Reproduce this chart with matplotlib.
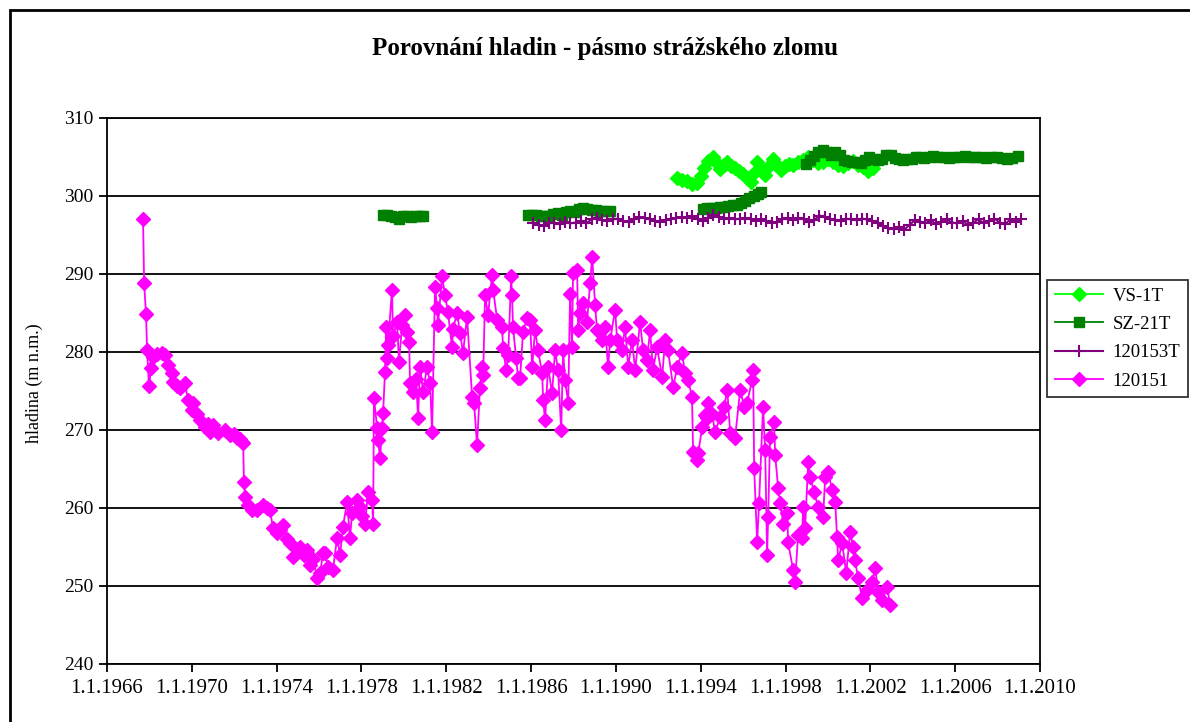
import numpy as np
import matplotlib
matplotlib.use('Agg')
import matplotlib.pyplot as plt
from matplotlib.patches import Rectangle

# 120151 (magenta) - decimal year, level
w151_years = [
    1967.70, 1967.75, 1967.84, 1967.89, 1967.98, 1968.08, 1968.17, 1968.36, 1968.59, 1968.74,
    1968.88, 1969.07, 1969.11, 1969.30, 1969.44, 1969.68, 1969.82, 1970.01, 1970.06, 1970.25,
    1970.39, 1970.62, 1970.76, 1970.86, 1971.00, 1971.24, 1971.57, 1971.80, 1971.99, 1972.13,
    1972.27, 1972.37, 1972.42, 1972.46, 1972.51, 1972.65, 1972.84, 1973.08, 1973.36, 1973.55,
    1973.69, 1973.83, 1974.02, 1974.16, 1974.30, 1974.49, 1974.63, 1974.77, 1974.96, 1975.10,
    1975.29, 1975.43, 1975.58, 1975.72, 1975.91, 1976.05, 1976.19, 1976.28, 1976.42, 1976.66,
    1976.85, 1976.99, 1977.13, 1977.32, 1977.46, 1977.56, 1977.79, 1977.93, 1978.03, 1978.17,
    1978.31, 1978.50, 1978.55, 1978.59, 1978.74, 1978.78, 1978.88, 1978.97, 1979.02, 1979.11,
    1979.16, 1979.21, 1979.25, 1979.44, 1979.49, 1979.68, 1979.77, 1979.92, 1980.06, 1980.15,
    1980.25, 1980.29, 1980.43, 1980.58, 1980.67, 1980.76, 1980.91, 1981.09, 1981.24, 1981.33,
    1981.47, 1981.57, 1981.61, 1981.80, 1981.94, 1982.08, 1982.27, 1982.32, 1982.51, 1982.65,
    1982.79, 1982.98, 1983.22, 1983.31, 1983.45, 1983.59, 1983.69, 1983.74, 1983.83, 1983.97,
    1984.16, 1984.21, 1984.40, 1984.63, 1984.68, 1984.82, 1984.92, 1985.06, 1985.10, 1985.15,
    1985.29, 1985.39, 1985.48, 1985.62, 1985.81, 1985.95, 1986.05, 1986.19, 1986.33, 1986.52,
    1986.57, 1986.66, 1986.80, 1986.99, 1987.13, 1987.27, 1987.42, 1987.51, 1987.60, 1987.75,
    1987.84, 1987.93, 1987.98, 1988.17, 1988.22, 1988.31, 1988.45, 1988.64, 1988.78, 1988.88,
    1989.02, 1989.11, 1989.35, 1989.49, 1989.63, 1989.73, 1989.96, 1990.06, 1990.29, 1990.43,
    1990.58, 1990.76, 1990.91, 1991.14, 1991.28, 1991.47, 1991.61, 1991.75, 1991.94, 1992.18,
    1992.32, 1992.46, 1992.70, 1992.89, 1993.12, 1993.26, 1993.41, 1993.59, 1993.64, 1993.83,
    1993.88, 1994.07, 1994.21, 1994.30, 1994.35, 1994.54, 1994.68, 1994.92, 1995.10, 1995.25,
    1995.39, 1995.62, 1995.86, 1996.05, 1996.19, 1996.42, 1996.47, 1996.52, 1996.66, 1996.75,
    1996.94, 1997.04, 1997.13, 1997.18, 1997.27, 1997.46, 1997.51, 1997.65, 1997.75, 1997.89,
    1998.08, 1998.12, 1998.36, 1998.45, 1998.59, 1998.78, 1998.83, 1998.92, 1999.07, 1999.16,
    1999.35, 1999.54, 1999.77, 1999.87, 2000.01, 2000.20, 2000.34, 2000.43, 2000.48, 2000.67,
    2000.86, 2001.05, 2001.19, 2001.28, 2001.42, 2001.61, 2001.85, 2002.08, 2002.23, 2002.37,
    2002.56, 2002.79, 2002.93,
]
w151_level = [
    297.1, 288.8, 284.9, 280.3, 275.6, 278.0, 279.4, 279.8, 279.9, 279.6,
    278.3, 277.3, 276.2, 275.6, 275.4, 276.0, 273.8, 272.6, 273.5, 272.0,
    271.3, 270.4, 270.8, 269.7, 270.6, 269.6, 270.0, 269.4, 269.5, 269.0,
    268.9, 268.5, 268.3, 263.3, 261.4, 260.4, 259.8, 259.7, 260.4, 260.0,
    259.7, 257.4, 256.8, 257.2, 257.8, 256.0, 255.5, 253.7, 254.8, 255.0,
    254.0, 254.6, 252.7, 253.5, 251.0, 251.7, 254.2, 254.2, 252.5, 252.1,
    256.2, 254.0, 257.6, 260.8, 256.2, 259.4, 261.0, 260.1, 259.0, 258.0,
    262.0, 261.0, 258.0, 274.1, 270.3, 268.7, 266.4, 270.3, 272.2, 277.4,
    283.2, 279.2, 280.9, 288.0, 282.0, 283.9, 278.7, 283.4, 284.7, 282.6,
    281.3, 276.0, 274.9, 276.5, 271.5, 278.1, 274.9, 278.1, 276.0, 269.7,
    288.3, 285.6, 283.5, 289.7, 287.3, 285.1, 280.6, 283.0, 285.0, 282.4,
    279.9, 284.5, 274.2, 273.5, 268.1, 275.4, 278.1, 277.0, 287.3, 284.7,
    289.9, 288.0, 284.1, 283.2, 280.5, 277.7, 279.6, 289.7, 287.3, 283.2,
    279.2, 276.7, 276.7, 282.6, 284.4, 284.1, 278.1, 282.8, 280.2, 277.3,
    273.8, 271.3, 278.1, 274.7, 280.2, 277.7, 270.0, 280.2, 276.4, 273.5,
    287.5, 280.6, 290.1, 290.5, 282.8, 285.0, 286.3, 283.9, 288.8, 292.2,
    286.0, 282.8, 281.5, 283.2, 278.1, 281.5, 285.4, 281.5, 280.2, 283.2,
    278.1, 281.5, 277.7, 283.9, 280.2, 279.0, 282.8, 277.7, 280.6, 276.8,
    281.5, 280.2, 275.5, 278.1, 279.9, 277.3, 276.4, 274.2, 267.2, 266.2,
    267.0, 270.4, 271.9, 271.5, 273.5, 272.0, 269.7, 271.7, 273.0, 275.1,
    269.6, 269.0, 275.1, 273.0, 273.5, 276.4, 277.7, 265.1, 255.6, 260.6,
    273.0, 267.4, 254.0, 258.8, 269.1, 271.0, 266.8, 262.6, 260.6, 258.0,
    259.4, 255.6, 252.0, 250.5, 256.5, 256.2, 260.1, 257.4, 265.9, 264.0,
    262.0, 260.1, 258.8, 264.0, 264.6, 262.3, 260.8, 256.3, 253.3, 255.5,
    251.7, 256.9, 255.0, 253.3, 251.0, 248.5, 249.5, 250.5, 252.3, 249.2,
    248.2, 249.9, 247.6,
]

# VS-1T (light green)
vs1_years = [
    1992.89, 1993.12, 1993.36, 1993.59, 1993.83, 1994.02, 1994.16, 1994.35, 1994.59, 1994.78,
    1994.92, 1995.10, 1995.25, 1995.43, 1995.62, 1995.81, 1996.00, 1996.19, 1996.38, 1996.52,
    1996.66, 1996.85, 1997.04, 1997.22, 1997.41, 1997.60, 1997.79, 1997.98, 1998.17, 1998.36,
    1998.59, 1998.83, 1999.07, 1999.30, 1999.54, 1999.77, 2000.01, 2000.25, 2000.48, 2000.72,
    2000.95, 2001.19, 2001.42, 2001.66, 2001.90, 2002.13,
]
vs1_level = [
    302.3, 302.1, 301.9, 301.5, 301.7, 302.6, 303.6, 304.5, 305.0, 304.2,
    303.4, 304.0, 304.3, 303.9, 303.6, 303.2, 302.8, 302.3, 301.8, 303.0,
    304.4, 303.5, 302.7, 303.8, 304.8, 304.0, 303.3, 303.8, 304.1, 304.0,
    304.3, 304.6, 305.0, 304.6, 304.2, 304.4, 304.7, 304.4, 304.0, 303.8,
    304.2, 304.5, 304.0, 303.7, 303.2, 303.6,
]

# SZ-21T (dark green), gaps between measuring campaigns
sz21_years = [
    1979.00, 1979.20, 1979.40, 1979.60, 1979.75, 1979.95, 1980.15, 1980.35, 1980.55, 1980.75, 1980.90,
    1983.00,
    1985.85, 1986.05, 1986.25, 1986.45, 1986.65, 1986.85, 1987.05, 1987.25, 1987.45, 1987.65,
    1987.85, 1988.05, 1988.25, 1988.45, 1988.65, 1988.85, 1989.05, 1989.25, 1989.45, 1989.70,
    1992.00,
    1994.10, 1994.30, 1994.50, 1994.70, 1994.90, 1995.10, 1995.30, 1995.50, 1995.70, 1995.90,
    1996.10, 1996.30, 1996.50, 1996.70, 1996.85,
    1998.00,
    1998.95, 1999.15, 1999.35, 1999.55, 1999.75, 1999.95, 2000.15, 2000.35, 2000.55, 2000.75,
    2000.95, 2001.15, 2001.35, 2001.55, 2001.75, 2001.95, 2002.15, 2002.35, 2002.55, 2002.75,
    2002.95, 2003.15, 2003.35, 2003.55, 2003.75, 2003.95, 2004.15, 2004.35, 2004.55, 2004.75,
    2004.95, 2005.20, 2005.45, 2005.70, 2005.95, 2006.20, 2006.45, 2006.70, 2006.95, 2007.20,
    2007.45, 2007.70, 2007.95, 2008.20, 2008.45, 2008.70, 2008.95,
]
sz21_level = [
    297.6, 297.6, 297.5, 297.3, 297.1, 297.4, 297.4, 297.3, 297.4, 297.4, 297.4,
    np.nan,
    297.6, 297.6, 297.6, 297.5, 297.4, 297.5, 297.7, 297.8, 297.6, 297.9,
    298.1, 298.0, 298.3, 298.4, 298.3, 298.2, 298.2, 298.1, 298.1, 298.1,
    np.nan,
    298.3, 298.4, 298.5, 298.5, 298.6, 298.6, 298.7, 298.8, 298.9, 299.1,
    299.4, 299.7, 300.0, 300.3, 300.5,
    np.nan,
    304.1, 304.6, 305.1, 305.6, 305.9, 305.6, 305.3, 305.6, 305.2, 304.6,
    304.5, 304.3, 304.4, 304.2, 304.6, 305.0, 304.8, 304.6, 304.8, 305.2,
    305.3, 304.9, 304.7, 304.6, 304.7, 304.8, 305.0, 305.0, 304.9, 305.0,
    305.1, 305.0, 305.0, 304.9, 305.0, 305.0, 305.1, 305.0, 305.0, 305.0,
    304.9, 305.0, 305.0, 304.9, 304.8, 304.9, 305.1,
]

# 120153T (purple), quarterly readings from 1986.1
w153_years = np.arange(1986.1, 2009.2, 0.25)
w153_level = [
    296.5, 296.3, 296.2, 296.5, 296.6, 296.4, 296.7, 296.5,
    296.6, 296.8, 296.5, 297.0, 297.2, 296.9, 296.8, 297.0,
    297.1, 296.8, 296.7, 297.0, 297.3, 297.2, 297.0, 296.8,
    296.7, 296.9, 297.1, 297.2, 297.3, 297.2, 297.4, 297.1,
    296.8, 297.2, 297.6, 297.3, 297.1, 297.2, 297.0, 297.1,
    297.2, 297.0, 296.8, 297.1, 296.8, 296.6, 296.7, 297.0,
    297.2, 296.9, 297.2, 297.0, 296.7, 296.9, 297.5, 297.3,
    297.0, 296.9, 296.8, 297.1, 297.0, 296.9, 297.1, 297.0,
    296.8, 296.5, 296.2, 295.9, 295.8, 296.0, 295.7, 296.3,
    296.9, 296.7, 296.5, 296.9, 296.4, 296.7, 297.0, 296.6,
    296.5, 296.8, 296.3, 296.6, 297.0, 296.5, 296.8, 297.1,
    296.6, 296.4, 297.0, 296.7, 297.0,
]

x_ticks = list(range(1966, 2011, 4))
y_ticks = list(range(240, 311, 10))

plt.rcParams['font.family'] = ['Liberation Serif', 'DejaVu Serif']

fig = plt.figure(figsize=(11.9, 7.22), dpi=100)
ax = fig.add_axes([107/1190, 1-664/722, (1040-107)/1190, (664-118)/722])

ax.plot(vs1_years, vs1_level, color='#00FF00', marker='D', markersize=7.5, lw=1.3, label='VS-1T')
ax.plot(sz21_years, sz21_level, color='#008000', marker='s', markersize=7.5, lw=1.3, label='SZ-21T')
ax.plot(w153_years, w153_level, color='#800080', marker='+', markersize=8, mew=1.5, lw=1.5, label='120153T')
ax.plot(w151_years, w151_level, color='#FF00FF', marker='D', markersize=7.5, lw=1.3, label='120151')

ax.set_xlim(1966, 2010)
ax.set_ylim(240, 310)
ax.set_xticks(x_ticks)
ax.set_xticklabels(['1.1.%d' % y for y in x_ticks])
ax.set_yticks(y_ticks)
ax.yaxis.grid(True, color='black', lw=1.3)
ax.set_axisbelow(True)
for s in ax.spines.values():
    s.set_linewidth(1.3)
ax.tick_params(direction='out', length=6, width=1.3, labelsize=14)
ax.tick_params(axis='x', labelsize=15, pad=5)
ax.set_ylabel('hladina (m n.m.)', fontsize=13)
ax.yaxis.set_label_coords(-0.069, 0.515)

fig.text(0.508, 1-49/722, 'Porovnání hladin - pásmo strážského zlomu', ha='center', va='center',
         fontsize=18, fontweight='bold')

leg = fig.legend(loc='upper left', bbox_to_anchor=(1047/1190, 1-280/722), fontsize=13.5,
                 frameon=True, fancybox=False, edgecolor='black', borderaxespad=0,
                 handlelength=2.6, handletextpad=0.5, borderpad=0.4, labelspacing=0.6)
leg.get_frame().set_linewidth(1.3)

fig.patches.append(Rectangle((10/1190, -0.02), 1.0, 1-10/722+0.02, transform=fig.transFigure,
                             fill=False, edgecolor='black', lw=2))

fig.savefig('out.png', dpi=100)
